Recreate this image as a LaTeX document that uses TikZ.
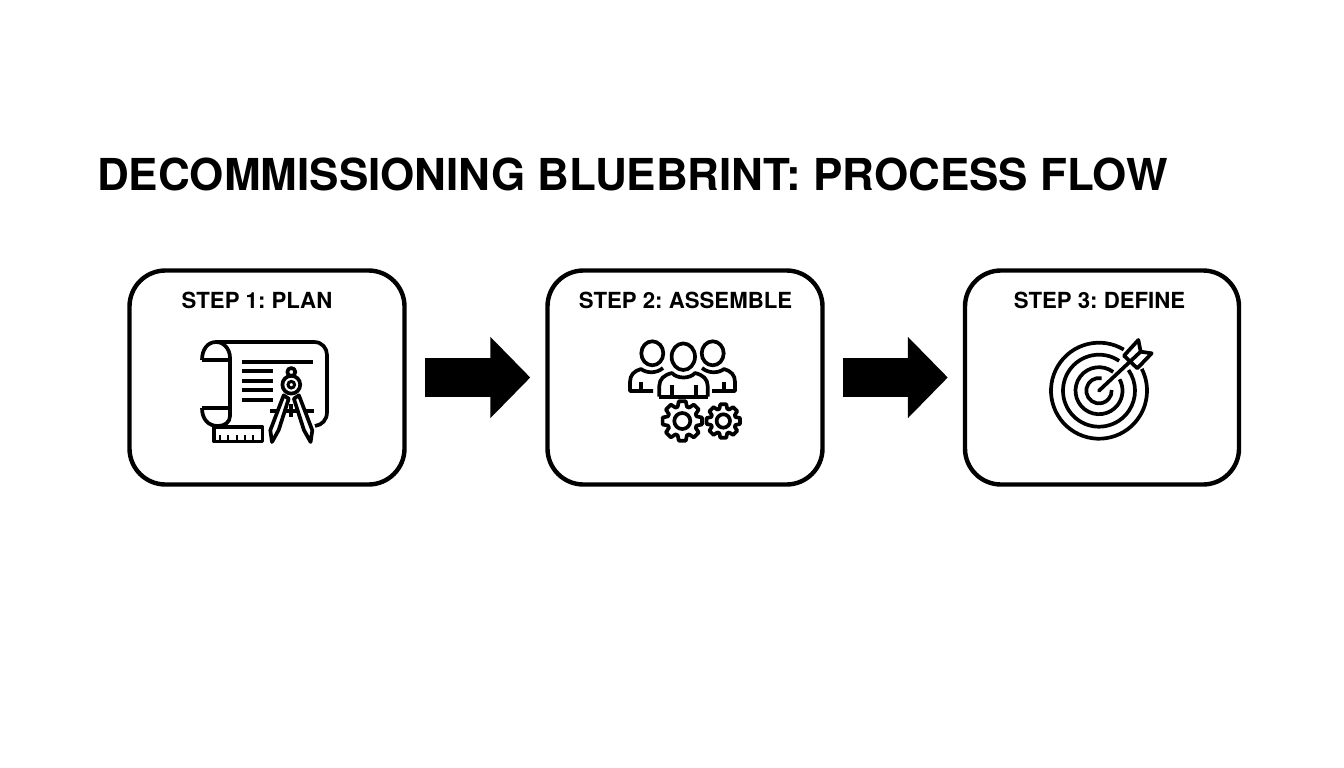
\documentclass[tikz,border=0pt]{standalone}
\usepackage{fontspec}
\setmainfont{TeX Gyre Heros}
\usetikzlibrary{arrows.meta}
\tikzset{
    stepbox/.style = {draw, line width=4.4pt, rounded corners=36pt, minimum height=214pt, inner sep=0pt},
    steplabel/.style = {font=\bfseries\fontsize{22.2}{24}\selectfont, inner sep=0pt},
    blockarrow/.style = {line width=39pt, -{Triangle[length=40pt,width=79pt]}, shorten <=18pt, shorten >=15pt},
    icon/.style = {line width=3.7pt, line join=round},
    thinicon/.style = {line width=2.8pt, line join=round},
}
% gear: centre x, centre y, tooth radius, body radius, hole radius
\newcommand{\gearicon}[5]{
    \draw[icon, fill=white] ([shift={(#1,#2)}]-18:#4)
        \foreach \a in {0,45,...,315} {
            -- ([shift={(#1,#2)}]\a-18:#4) -- ([shift={(#1,#2)}]\a-10:#3) -- ([shift={(#1,#2)}]\a+10:#3) -- ([shift={(#1,#2)}]\a+18:#4)
        } -- cycle;
    \draw[icon] (#1,#2) circle (#5);
}
\begin{document}
\frenchspacing
\begin{tikzpicture}[x=1pt,y=-1pt]
    \useasboundingbox (0,0) rectangle (1344,768);
    \node[anchor=west, inner sep=0pt, font=\bfseries\fontsize{44}{50}\selectfont] (title) at (97,174) {DECOMMISSIONING BLUEBRINT: PROCESS FLOW};

    \node[stepbox, minimum width=275pt] (plan) at (267,377.5) {};
    \node[stepbox, minimum width=275pt] (assemble) at (685,377.5) {};
    \node[stepbox, minimum width=274pt] (define) at (1102,377.5) {};
    \node[steplabel] (planlabel) at (257,300) {STEP 1: PLAN};
    \node[steplabel] (assemblelabel) at (685.5,300) {STEP 2: ASSEMBLE};
    \node[steplabel] (definelabel) at (1099.5,300) {STEP 3: DEFINE};
    \draw[blockarrow] (plan) -- (assemble);
    \draw[blockarrow] (assemble) -- (define);

    % plan icon
    \draw[icon] (202,360) -- (230,360); %top roll
    \draw[icon] (202,360) .. controls (202,349) and (208,342) .. (216,342) .. controls (224,342) and (230,349) .. (230,358) -- (230,416) .. controls (230,422) and (225,426) .. (218,426);
    \draw[icon] (202,408) -- (230,408); %bottom roll
    \draw[icon] (202,408) .. controls (202,419) and (208,426) .. (218,426);
    \draw[icon] (216,342) -- (314,342) .. controls (322,342) and (327,348) .. (327,355) -- (327,412) .. controls (327,420) and (322,425) .. (315,426);
    \draw[icon] (242,361.7) -- (313,361.7);
    \foreach \y in {371.3,380.7,390.3,400} {
        \draw[icon] (242,\y) -- (272.5,\y);
    }
    \draw[icon] (270,411.3) -- (313.5,411.3);
    \draw[icon] (214,427) rectangle (262.5,441.5); %ruler
    \foreach \x in {220,228,237,245,253} {
        \draw[thinicon] (\x,435) -- (\x,441.5);
    }
    \draw[icon, fill=white] (283.7,395.3) -- (270.3,430.3) -- (272,442) -- (278.7,430) -- (288.7,398.7) -- cycle;
    \draw[icon, fill=white] (298.9,395.3) -- (312.3,430.3) -- (310.6,442) -- (303.9,430) -- (293.9,398.7) -- cycle;
    \draw[icon] (291.3,403.7) -- (291.3,417);
    \draw[icon, fill=white] (291.3,372) circle (4);
    \draw[icon, fill=white] (291.3,384.7) circle (8.9);
    \draw[line width=3pt] (291.3,384.7) circle (3.3);

    % assemble icon
    \draw[icon] (652.3,353.3) ellipse (11 and 12);
    \draw[icon] (712.7,353.3) ellipse (11 and 12);
    \draw[icon] (683.3,356.7) ellipse (11.7 and 13.3);
    \draw[icon] (653,391) -- (630,391) -- (630,382) .. controls (630,375) and (634,371) .. (641,369) .. controls (646,373) and (656,374) .. (663,368);
    \draw[icon] (712,391) -- (735,391) -- (735,382) .. controls (735,375) and (731,371) .. (724,369) .. controls (719,373) and (709,374) .. (702,368);
    \draw[icon] (640.7,382) -- (640.7,391);
    \draw[icon] (724.3,382) -- (724.3,391);
    \draw[icon] (659.3,396.7) -- (707.7,396.7);
    \draw[icon] (659.3,396.7) -- (659.3,386) .. controls (659.3,379) and (664,375) .. (672,373) .. controls (677,379) and (690,379) .. (695,373) .. controls (703,375) and (707.7,379) .. (707.7,386) -- (707.7,396.7);
    \draw[icon] (671.7,385) -- (671.7,396.7);
    \draw[icon] (695.7,385) -- (695.7,396.7);
    \gearicon{723.3}{421}{17}{12.8}{6.7}
    \gearicon{682.3}{421}{20}{15}{8}

    % define icon
    \draw[icon] ([shift={(1099,390.7)}]-59:48) arc[start angle=-59, end angle=-387, radius=48];
    \draw[icon] ([shift={(1099,390.7)}]-56:36) arc[start angle=-56, end angle=-395, radius=36];
    \draw[icon] ([shift={(1099,390.7)}]-53:23.5) arc[start angle=-53, end angle=-389, radius=23.5];
    \draw[icon] ([shift={(1099,390.7)}]-78:12.7) arc[start angle=-78, end angle=-363, radius=12.7];
    \draw[icon, fill=white] (1124,355.7) -- (1138.3,340) -- (1140.7,351.7) -- (1151.7,353.3) -- (1137.3,368.3) -- cycle;
    \draw[icon, line cap=round] (1099,390.7) -- (1141,351.3);
\end{tikzpicture}
\end{document}
